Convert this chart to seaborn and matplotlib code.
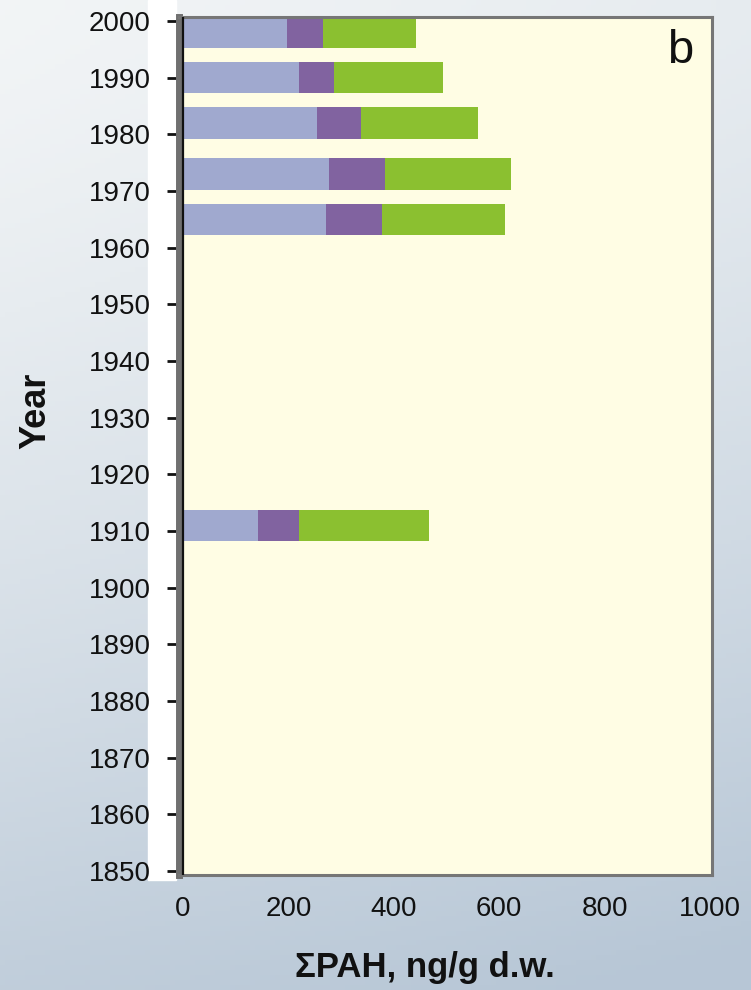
import numpy as np
import pandas as pd
import matplotlib
matplotlib.use("Agg")
import matplotlib.pyplot as plt
import seaborn as sns

# data (ng/g d.w.)
years = [1998, 1990, 1982, 1973, 1965, 1911]
light_part = [198, 221, 255, 277, 272, 143]
purple_part = [68, 66, 83, 106, 105, 78]
green_part = [177, 207, 222, 240, 234, 245]

year_ticks = list(range(1850, 2001, 10))
x_ticks = [0, 200, 400, 600, 800, 1000]

df = pd.DataFrame({"year": years, "light": light_part,
                   "purple": purple_part, "green": green_part})
df["lp"] = df["light"] + df["purple"]
df["total"] = df["lp"] + df["green"]

sns.set_theme(style="white")
plt.rcParams["font.family"] = ["Liberation Sans", "DejaVu Sans"]

W, H = 751, 990
fig = plt.figure(figsize=(W / 100, H / 100), dpi=100)

# background (photo-like gradient)
bg = fig.add_axes([0, 0, 1, 1], zorder=-10)
yy, xx = np.mgrid[0:1:200j, 0:1:150j]
top = np.array([0.95, 0.96, 0.965])
bot = np.array([0.72, 0.78, 0.84])
t = np.clip(yy ** 1.3 * 0.85 + xx * 0.2, 0, 1)[..., None]
img = top * (1 - t) + bot * t
bg.imshow(img, aspect="auto", extent=[0, 1, 0, 1], origin="upper")
bg.axis("off")
# white strip behind the year labels
fig.patches.append(plt.Rectangle((148 / W, 1 - 880 / H), (176 - 148) / W, 880 / H,
                                 transform=fig.transFigure, color="white", zorder=-5))

L, R, T, B = 178.5, 712, 17, 875
ax = fig.add_axes([L / W, 1 - B / H, (R - L) / W, (B - T) / H])
ax.set_facecolor("#FFFDE4")

c_light, c_purple, c_green = "#A0A9CF", "#8163A0", "#8BC030"
bw = 0.69
# stacked: draw the cumulative totals back to front
sns.barplot(data=df, x="total", y="year", orient="y", native_scale=True,
            color=c_green, saturation=1, width=bw, errorbar=None, ax=ax, linewidth=0)
sns.barplot(data=df, x="lp", y="year", orient="y", native_scale=True,
            color=c_purple, saturation=1, width=bw, errorbar=None, ax=ax, linewidth=0)
sns.barplot(data=df, x="light", y="year", orient="y", native_scale=True,
            color=c_light, saturation=1, width=bw, errorbar=None, ax=ax, linewidth=0)

ax.set_xlim(-8.5, 1004)
ax.set_ylim(1849.3, 2000.7)
ax.axvline(0, color="#111111", lw=1.6, zorder=5)

ax.set_yticks(year_ticks)
ax.set_yticklabels([str(y) for y in year_ticks])
ax.set_xticks(x_ticks)
ax.set_xticklabels([str(x) for x in x_ticks])
ax.set_xticks([200, 600], minor=True)
ax.tick_params(axis="y", which="major", direction="out", length=9, width=2,
               color="#111111", pad=11, labelsize=20, labelcolor="#111111", left=True)
ax.tick_params(axis="x", which="major", length=0, pad=15, labelsize=20,
               labelcolor="#111111", bottom=True)
ax.tick_params(axis="x", which="minor", direction="out", length=7, width=2,
               color="#111111", bottom=True)
ax.set_xlabel("")
ax.set_ylabel("")

for side in ["top", "right", "bottom"]:
    ax.spines[side].set_color("#767676")
    ax.spines[side].set_linewidth(2.2)
ax.spines["left"].set_color("#707070")
ax.spines["left"].set_linewidth(5)

fig.text(680 / W, 1 - 51 / H, "b", ha="center", va="center",
         fontsize=34, color="#111111")

fig.text(36 / W, 1 - 411 / H, "Year", rotation=90, ha="center", va="center",
         fontsize=26, fontweight="bold", color="#111111")
fig.text(425 / W, 1 - 968 / H, "ΣPAH, ng/g d.w.", ha="center", va="center",
         fontsize=25, fontweight="bold", color="#111111")

fig.savefig("out.png", dpi=100)
